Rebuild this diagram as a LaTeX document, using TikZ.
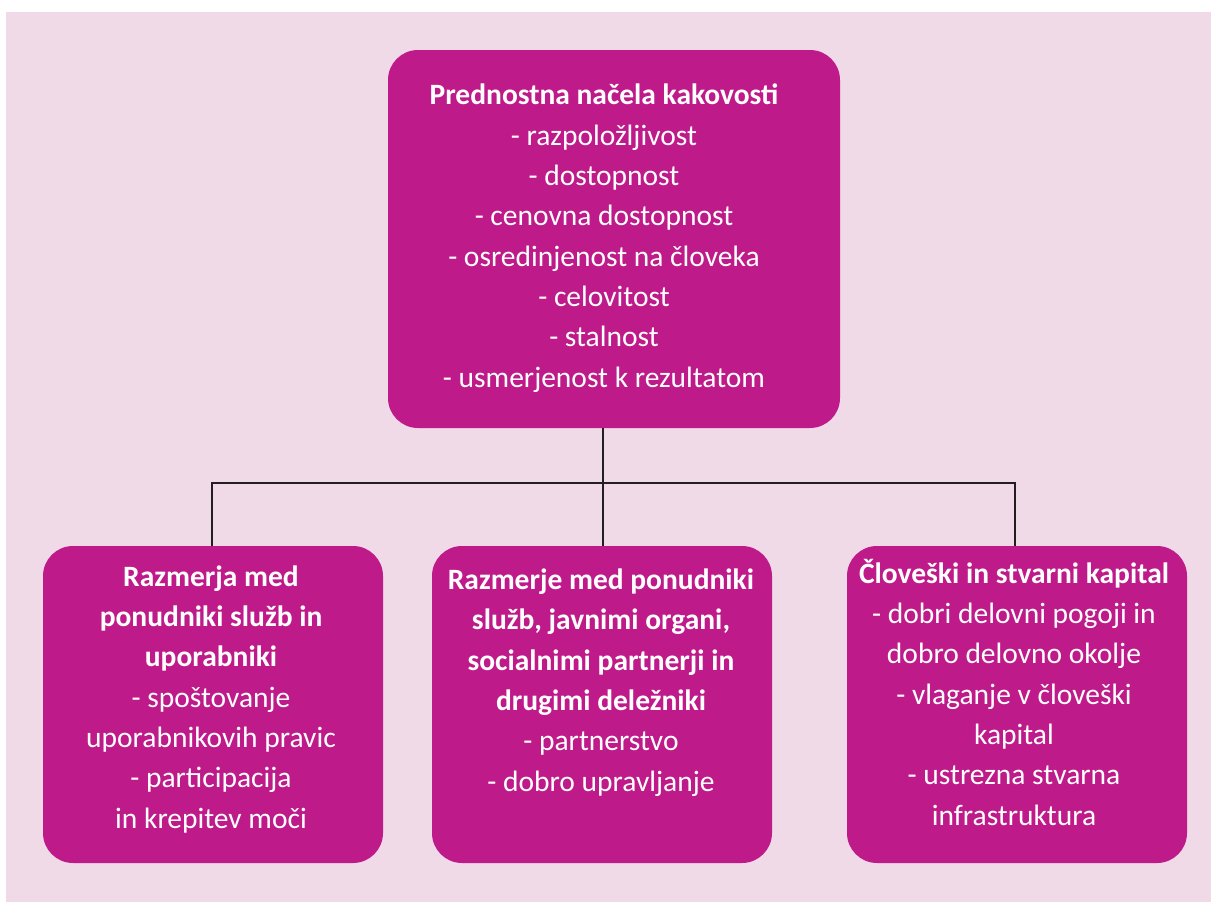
\documentclass[tikz,border=0pt]{standalone}
\usepackage{fontspec}
\setmainfont{Carlito}
\definecolor{bgpink}{RGB}{240,218,232}
\definecolor{mag}{RGB}{191,26,138}
\definecolor{lineclr}{RGB}{35,31,32}
\begin{document}
\begin{tikzpicture}[x=1pt,y=-1pt,
  box/.style={fill=mag, draw=none, rounded corners=30pt, inner sep=0pt},
  txt/.style={text=white, align=center, font=\fontsize{29.5}{40.3}\selectfont, anchor=base, inner sep=0pt},
  conn/.style={draw=lineclr, line width=1.4pt}]
\useasboundingbox (0,0) rectangle (1211,902);
\fill[white] (0,0) rectangle (1211,902);
\fill[bgpink] (6,12) rectangle (1211,902);
% boxes
\node[box, minimum width=452pt, minimum height=378pt] (top) at (614,239) {};
\node[box, minimum width=340pt, minimum height=317pt] (left) at (213,704.5) {};
\node[box, minimum width=340pt, minimum height=317pt] (mid) at (602,704.5) {};
\node[box, minimum width=340pt, minimum height=317pt] (right) at (1017,704.5) {};
% texts (base anchor = baseline of last line)
\node[txt] (ttop) at (604,387) {\textbf{Prednostna načela kakovosti}\\- razpoložljivost\\- dostopnost\\- cenovna dostopnost\\- osredinjenost na človeka\\- celovitost\\- stalnost\\- usmerjenost k rezultatom};
\node[txt] (tleft) at (211,828) {\textbf{Razmerja med}\\\textbf{ponudniki služb in}\\\textbf{uporabniki}\\- spoštovanje\\uporabnikovih pravic\\- participacija\\in krepitev moči};
\node[txt] (tmid) at (601,791) {\textbf{Razmerje med ponudniki}\\\textbf{služb, javnimi organi,}\\\textbf{socialnimi partnerji in}\\\textbf{drugimi deležniki}\\- partnerstvo\\- dobro upravljanje};
\node[txt] (tright) at (1014,825) {\textbf{Človeški in stvarni kapital}\\- dobri delovni pogoji in\\dobro delovno okolje\\- vlaganje v človeški\\kapital\\- ustrezna stvarna\\infrastruktura};
% connectors
\coordinate (hub) at (603,483);
\coordinate (hl) at (212,483);
\coordinate (hr) at (1015,483);
\draw[conn] (top.south -| hub) -- (hub);
\draw[conn] (left.north -| hl) -- (hl) -- (hr) -- (right.north -| hr);
\draw[conn] (hub) -- (mid.north -| hub);
\end{tikzpicture}
\end{document}
